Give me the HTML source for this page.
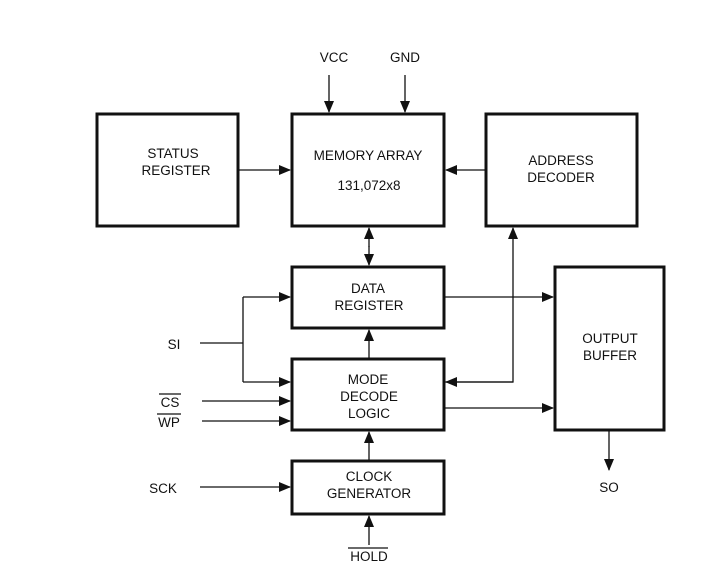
<!DOCTYPE html>
<html><head><style>
body{margin:0;background:#fff}
svg{display:block}
text{font-family:"Liberation Sans",Arial,sans-serif;font-size:13.5px;fill:#111;text-anchor:middle}
</style></head><body>
<svg width="717" height="570" viewBox="0 0 717 570">
<defs>
<marker id="a" markerWidth="12" markerHeight="10" refX="11" refY="5" orient="auto" markerUnits="userSpaceOnUse">
<path d="M0,0 L12,5 L0,10 Z" fill="#111"/></marker>
</defs>
<g fill="none" stroke="#111" stroke-width="3">
<rect x="97" y="114" width="141" height="112"/>
<rect x="292" y="114" width="152" height="112"/>
<rect x="486" y="114" width="151" height="112"/>
<rect x="292" y="267" width="152" height="61"/>
<rect x="292" y="359" width="152" height="71"/>
<rect x="292" y="461" width="152" height="53"/>
<rect x="555" y="267" width="109" height="163"/>
</g>
<g stroke="#111" stroke-width="1.3" fill="none">
<line x1="329" y1="75" x2="329" y2="112" marker-end="url(#a)"/>
<line x1="405" y1="75" x2="405" y2="112" marker-end="url(#a)"/>
<line x1="238" y1="170" x2="290" y2="170" marker-end="url(#a)"/>
<line x1="486" y1="170" x2="446" y2="170" marker-end="url(#a)"/>
<line x1="369" y1="247" x2="369" y2="228" marker-end="url(#a)"/>
<line x1="369" y1="246" x2="369" y2="265" marker-end="url(#a)"/>
<polyline points="444,382 513,382 513,228" marker-end="url(#a)"/>
<line x1="513" y1="382" x2="446" y2="382" marker-end="url(#a)"/>
<line x1="444" y1="297" x2="553" y2="297" marker-end="url(#a)"/>
<line x1="444" y1="408" x2="553" y2="408" marker-end="url(#a)"/>
<line x1="369" y1="359" x2="369" y2="330" marker-end="url(#a)"/>
<line x1="369" y1="461" x2="369" y2="432" marker-end="url(#a)"/>
<line x1="200" y1="343" x2="243" y2="343"/>
<line x1="243" y1="297" x2="243" y2="382"/>
<line x1="243" y1="297" x2="290" y2="297" marker-end="url(#a)"/>
<line x1="243" y1="382" x2="290" y2="382" marker-end="url(#a)"/>
<line x1="202" y1="401" x2="290" y2="401" marker-end="url(#a)"/>
<line x1="202" y1="421" x2="290" y2="421" marker-end="url(#a)"/>
<line x1="200" y1="487" x2="290" y2="487" marker-end="url(#a)"/>
<line x1="369" y1="545" x2="369" y2="516" marker-end="url(#a)"/>
<line x1="609" y1="430" x2="609" y2="470" marker-end="url(#a)"/>
</g>
<text x="334" y="62">VCC</text>
<text x="405" y="62">GND</text>
<text x="173" y="158">STATUS</text>
<text x="176" y="175">REGISTER</text>
<text x="368" y="160">MEMORY ARRAY</text>
<text x="369" y="190">131,072x8</text>
<text x="561" y="165">ADDRESS</text>
<text x="561" y="182">DECODER</text>
<text x="368" y="293">DATA</text>
<text x="369" y="310">REGISTER</text>
<text x="368" y="384">MODE</text>
<text x="369" y="401">DECODE</text>
<text x="369" y="418">LOGIC</text>
<text x="369" y="481">CLOCK</text>
<text x="369" y="498">GENERATOR</text>
<text x="610" y="343">OUTPUT</text>
<text x="610" y="360">BUFFER</text>
<text x="174" y="349">SI</text>
<text x="170" y="407">CS</text>
<text x="169" y="427">WP</text>
<text x="163" y="493">SCK</text>
<text x="369" y="561">HOLD</text>
<text x="609" y="492">SO</text>
<g stroke="#111" stroke-width="1.2">
<line x1="159" y1="394" x2="181" y2="394"/>
<line x1="157" y1="414" x2="181" y2="414"/>
<line x1="348" y1="548" x2="388" y2="548"/>
</g>
</svg>
</body></html>
